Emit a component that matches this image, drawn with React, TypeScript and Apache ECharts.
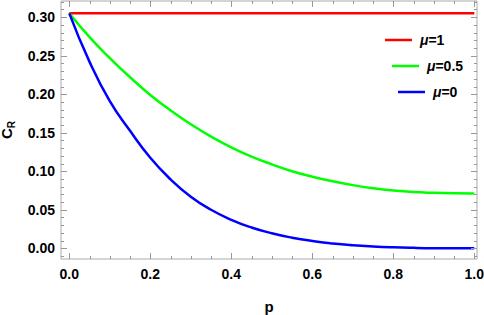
import React, { useEffect, useRef } from "react";
import * as echarts from "echarts";

const P_VALUES = [0, 0.05, 0.1, 0.15, 0.2, 0.25, 0.3, 0.35, 0.4, 0.45, 0.5, 0.55, 0.6, 0.65, 0.7, 0.75, 0.8, 0.85, 0.9, 0.95, 1.0];
const MU0 = [0.305, 0.242, 0.191, 0.1525, 0.1175, 0.0895, 0.067, 0.05, 0.037, 0.027, 0.0195, 0.0138, 0.0095, 0.0063, 0.004, 0.0024, 0.0013, 0.0006, 0.0002, 0.0001, 0.0];
const MU05 = [0.305, 0.274, 0.247, 0.222, 0.199, 0.179, 0.161, 0.145, 0.131, 0.119, 0.109, 0.1, 0.093, 0.087, 0.082, 0.078, 0.075, 0.073, 0.072, 0.0714, 0.0712];
const MU1_P = [0, 1];
const MU1 = [0.305, 0.305];

const X_MAJOR = [0, 0.2, 0.4, 0.6, 0.8, 1.0];
const X_MINOR = [0.05, 0.1, 0.15, 0.25, 0.3, 0.35, 0.45, 0.5, 0.55, 0.65, 0.7, 0.75, 0.85, 0.9, 0.95];
const Y_MAJOR = [0, 0.05, 0.1, 0.15, 0.2, 0.25, 0.3];
const Y_MINOR = [-0.01, 0.01, 0.02, 0.03, 0.04, 0.06, 0.07, 0.08, 0.09, 0.11, 0.12, 0.13, 0.14, 0.16, 0.17, 0.18, 0.19, 0.21, 0.22, 0.23, 0.24, 0.26, 0.27, 0.28, 0.29, 0.31, 0.32];

const SERIES_NAMES = ["μ=1", "μ=0.5", "μ=0"];
const COLORS = ["#ff0000", "#00ff00", "#0000ff"];

const FONT = "Liberation Sans, Arial, sans-serif";
const FRAME = "#aaaaaa";
const TICK = "#999999";
const XMIN = -0.0205;
const XMAX = 1.0067;
const YMIN = -0.0139;
const YMAX = 0.321;

function legendDef(name: string, left: number, top: number) {
  return {
    data: [name],
    left,
    top,
    orient: "horizontal",
    padding: 0,
    icon: "rect",
    itemWidth: 27,
    itemHeight: 2.5,
    selectedMode: false,
    formatter: (n: string) => "{i|μ}{n|" + n.slice(1) + "}",
    textStyle: {
      padding: [0, 0, 0, 3],
      rich: {
        i: { fontStyle: "italic", fontWeight: "bold", fontSize: 14, fontFamily: FONT, color: "#000" },
        n: { fontWeight: "bold", fontSize: 14, fontFamily: FONT, color: "#000" },
      },
    },
  };
}

export default function App() {
  const ref = useRef<HTMLDivElement>(null);
  useEffect(() => {
    if (!ref.current) return;
    const chart = echarts.init(ref.current, undefined, { renderer: "svg" });
    const pairs = (xs: number[], ys: number[]) => xs.map((x, i) => [x, ys[i]]);
    chart.setOption({
      animation: false,
      backgroundColor: "#fff",
      grid: {
        left: 61,
        right: 7,
        top: 1,
        bottom: 56,
        containLabel: false,
        outerBoundsMode: "none",
        show: true,
        borderColor: FRAME,
        borderWidth: 1,
        backgroundColor: "transparent",
      },
      xAxis: {
        type: "value",
        min: XMIN,
        max: XMAX,
        splitLine: { show: false },
        axisLine: { show: false },
        axisTick: { show: false },
        axisLabel: { show: true, customValues: X_MAJOR, formatter: (v: number) => v.toFixed(1), color: "#000", fontWeight: "bold", fontSize: 14, fontFamily: FONT, margin: 8 },
        name: "p",
        nameLocation: "middle",
        nameGap: 40,
        nameTextStyle: { color: "#000", fontWeight: "bold", fontSize: 15, fontFamily: FONT },
      },
      yAxis: {
        type: "value",
        min: YMIN,
        max: YMAX,
        splitLine: { show: false },
        axisLine: { show: false },
        axisTick: { show: false },
        axisLabel: { show: true, customValues: Y_MAJOR, formatter: (v: number) => v.toFixed(2), color: "#000", fontWeight: "bold", fontSize: 14, fontFamily: FONT, margin: 6 },
        name: "{c|C}{r|R}",
        nameLocation: "middle",
        nameRotate: 90,
        nameGap: 38,
        nameTextStyle: {
          rich: {
            c: { fontWeight: "bold", fontSize: 15, fontFamily: FONT, color: "#000", lineHeight: 20, verticalAlign: "middle" },
            r: { fontWeight: "bold", fontSize: 10, fontFamily: FONT, color: "#000", lineHeight: 20, verticalAlign: "bottom" },
          },
        },
      },
      legend: [
        legendDef(SERIES_NAMES[0], 385, 33),
        legendDef(SERIES_NAMES[1], 392, 59),
        legendDef(SERIES_NAMES[2], 398, 85),
      ],
      series: [
        { name: SERIES_NAMES[0], type: "line", z: 3, data: pairs(MU1_P, MU1), showSymbol: false, lineStyle: { color: COLORS[0], width: 2.5 }, itemStyle: { color: COLORS[0] } },
        { name: SERIES_NAMES[1], type: "line", z: 3, data: pairs(P_VALUES, MU05), smooth: 0.5, showSymbol: false, lineStyle: { color: COLORS[1], width: 2.5 }, itemStyle: { color: COLORS[1] } },
        { name: SERIES_NAMES[2], type: "line", z: 3, data: pairs(P_VALUES, MU0), smooth: 0.5, showSymbol: false, lineStyle: { color: COLORS[2], width: 2.5 }, itemStyle: { color: COLORS[2] } },
      ],
    });

    // frame tick marks (pointing inward on all four sides), placed through the chart's own scales
    const els: any[] = [];
    const px = (x: number, y: number) => chart.convertToPixel({ xAxisIndex: 0, yAxisIndex: 0 }, [x, y]) as number[];
    const addX = (ticks: number[], len: number) => {
      ticks.forEach((v) => {
        const b = px(v, YMIN);
        const t = px(v, YMAX);
        const x = Math.round(b[0]);
        els.push({ type: "rect", silent: true, z: 50, shape: { x: x, y: b[1] - len, width: 1, height: len }, style: { fill: TICK } });
        els.push({ type: "rect", silent: true, z: 50, shape: { x: x, y: t[1], width: 1, height: len }, style: { fill: TICK } });
      });
    };
    const addY = (ticks: number[], len: number) => {
      ticks.forEach((v) => {
        const l = px(XMIN, v);
        const r = px(XMAX, v);
        const y = Math.round(l[1]);
        els.push({ type: "rect", silent: true, z: 50, shape: { x: l[0], y: y, width: len, height: 1 }, style: { fill: TICK } });
        els.push({ type: "rect", silent: true, z: 50, shape: { x: r[0] - len, y: y, width: len, height: 1 }, style: { fill: TICK } });
      });
    };
    addX(X_MAJOR, 6);
    addX(X_MINOR, 3);
    addY(Y_MAJOR, 6);
    addY(Y_MINOR, 3);
    chart.setOption({ graphic: els });

    return () => chart.dispose();
  }, []);
  return <div ref={ref} style={{ position: "absolute", left: 0, top: 0, width: 484, height: 315 }} />;
}
